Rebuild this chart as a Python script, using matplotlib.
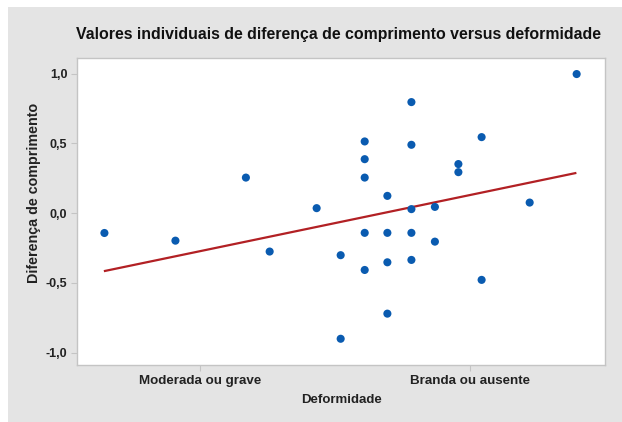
import numpy as np
import matplotlib
matplotlib.use("Agg")
import matplotlib.pyplot as plt
from matplotlib.patches import Rectangle

# Data (x coded: 1 = Moderada ou grave, 2 = Branda ou ausente)
x_vals = [0.646, 0.909, 1.170, 1.258, 1.432, 1.521, 1.521,
          1.610, 1.610, 1.610, 1.610, 1.610,
          1.694, 1.694, 1.694, 1.694,
          1.783, 1.783, 1.783, 1.783, 1.783,
          1.870, 1.870, 1.957, 1.957, 2.043, 2.043, 2.221, 2.395]
y_vals = [-0.142, -0.197, 0.255, -0.275, 0.036, -0.301, -0.900,
          0.514, 0.387, 0.255, -0.141, -0.407,
          0.124, -0.141, -0.352, -0.720,
          0.796, 0.490, 0.029, -0.141, -0.335,
          0.045, -0.204, 0.352, 0.294, 0.545, -0.478, 0.076, 0.997]
fit_x = [0.648, 2.390]
fit_y = [-0.414, 0.287]
x_ticks = [1, 2]
x_ticklabels = ["Moderada ou grave", "Branda ou ausente"]
y_ticks = [-1.0, -0.5, 0.0, 0.5, 1.0]
y_ticklabels = ["-1,0", "-0,5", "0,0", "0,5", "1,0"]

plt.rcParams['font.family'] = ['Liberation Sans', 'DejaVu Sans']

W, H = 622, 422
fig = plt.figure(figsize=(W/100, H/100), dpi=100, facecolor="white")
fig.patches.append(Rectangle((8/W, 0), 1 - 8/W, 1 - 7/H, transform=fig.transFigure,
                             facecolor="#e4e4e4", edgecolor="none", zorder=-10))

ax = fig.add_axes([77/W, 1 - 365/H, (605 - 77)/W, (365 - 58)/H])
ax.set_facecolor("white")
for s in ax.spines.values():
    s.set_color("#c4c4c4")
    s.set_linewidth(1.0)

ax.plot(fit_x, fit_y, color="#b22024", lw=1.6, zorder=2)
ax.scatter(x_vals, y_vals, s=34, color="#0a5bb0", edgecolors="none", zorder=3)

ax.set_xlim(1 + (77 - 200)/270, 1 + (605 - 200)/270)
ax.set_ylim(-1.088, 1.112)
ax.set_xticks(x_ticks)
ax.set_xticklabels(x_ticklabels, fontsize=9.6, fontweight="bold", color="#222222")
ax.set_yticks(y_ticks)
ax.set_yticklabels(y_ticklabels, fontsize=9, fontweight="bold", color="#222222")
ax.tick_params(axis="both", length=4, color="#c4c4c4", width=0.8, pad=3)

ax.set_xlabel("Deformidade", fontsize=9.5, fontweight="bold", color="#222222", labelpad=5)
ax.set_ylabel("Diferença de comprimento", fontsize=10.3, fontweight="bold", color="#222222")
ax.yaxis.set_label_coords((41 - 77)/528, (365 - 193)/307)

fig.text(338/W, 1 - 35/H, "Valores individuais de diferença de comprimento versus deformidade",
         ha="center", va="center", fontsize=11.4, fontweight="bold", color="#111111")

fig.savefig("out.png", dpi=100, facecolor="white")
